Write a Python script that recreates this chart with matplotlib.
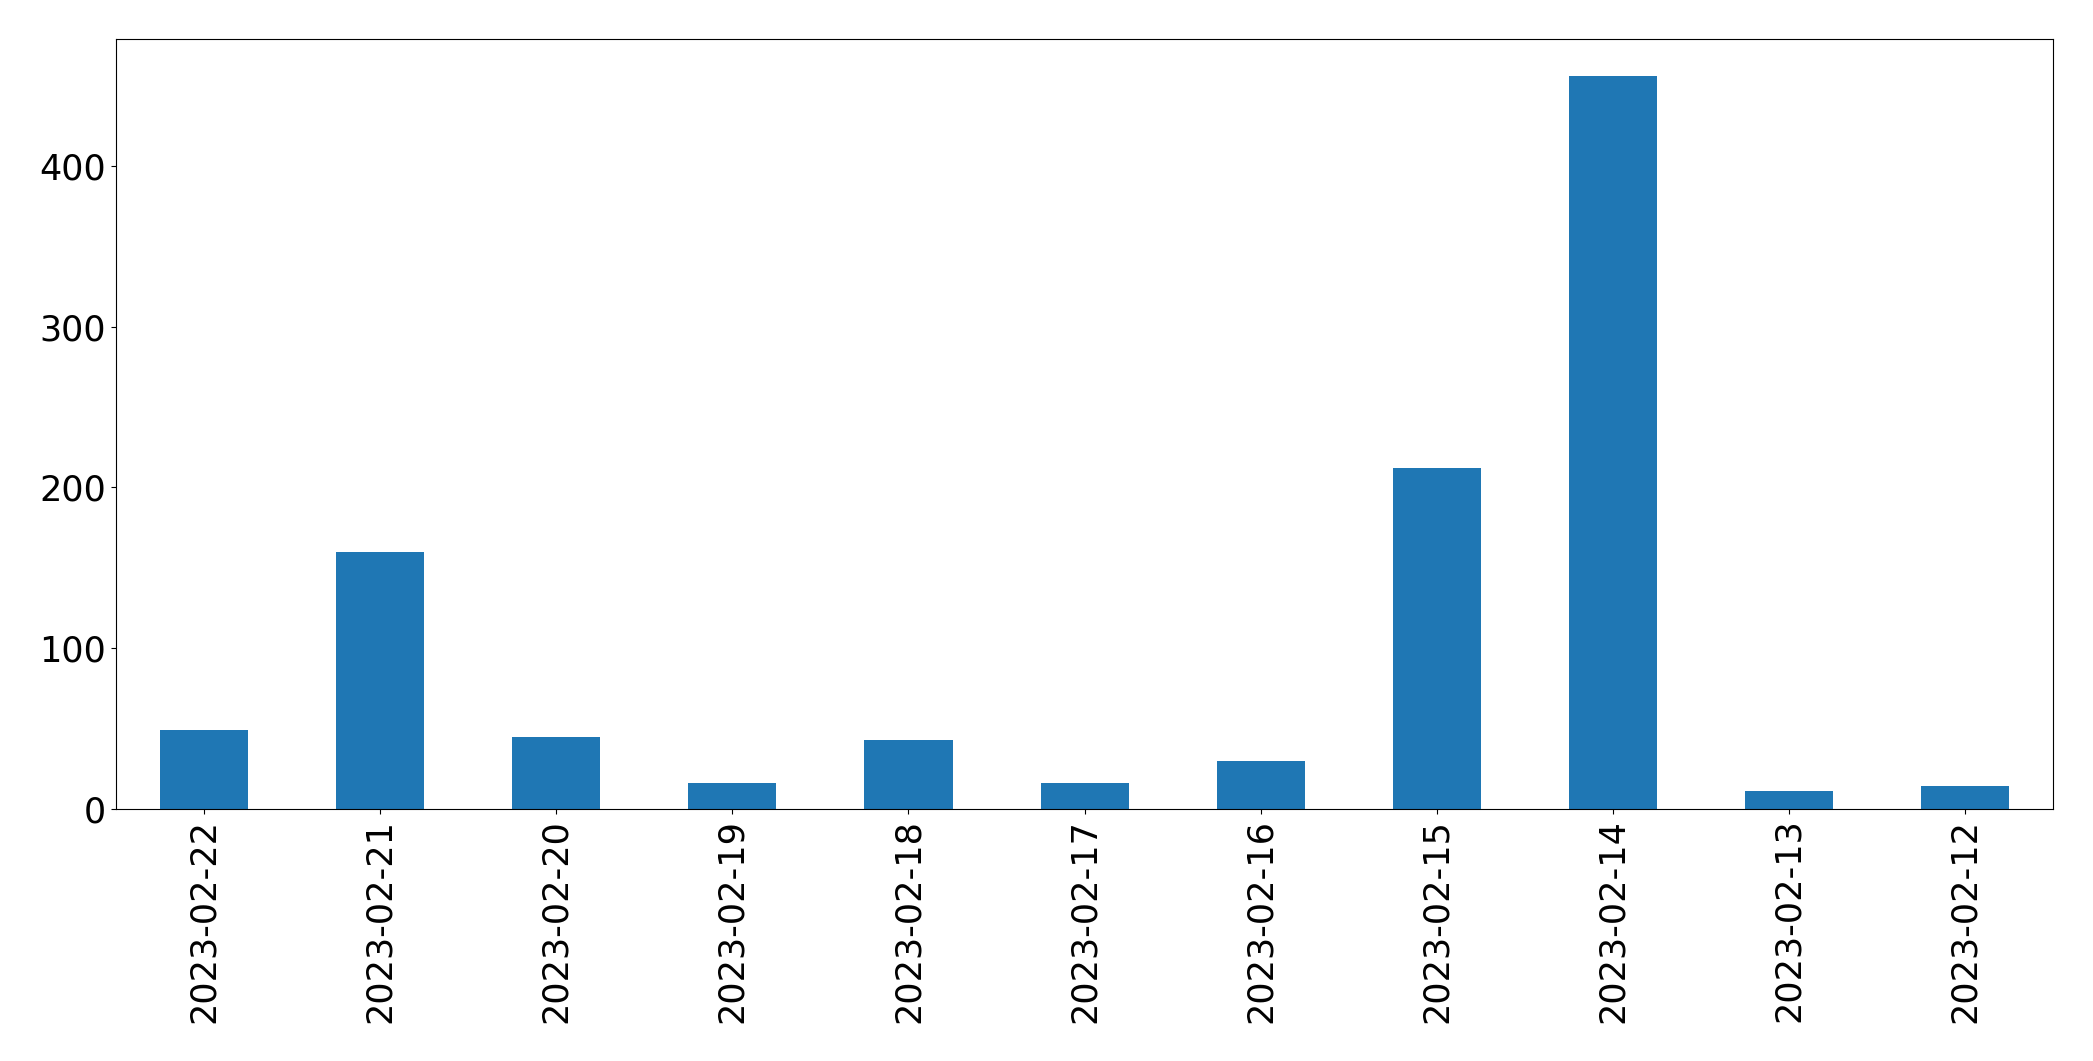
import matplotlib
matplotlib.use('Agg')
import matplotlib.pyplot as plt
import pandas as pd

# daily counts, newest first (as in the source plot)
dates = ['2023-02-22', '2023-02-21', '2023-02-20', '2023-02-19', '2023-02-18',
         '2023-02-17', '2023-02-16', '2023-02-15', '2023-02-14', '2023-02-13',
         '2023-02-12']
counts = [49, 160, 45, 16, 43, 16, 30, 212, 456, 11, 14]

s = pd.Series(counts, index=dates)

fig = plt.figure(figsize=(20.93, 10.61), dpi=100)
ax = fig.add_subplot(111)
s.plot(kind='bar', ax=ax, fontsize=25.2)
ax.tick_params(axis='x', labelrotation=90)
fig.subplots_adjust(left=0.0554, right=0.981, top=0.9632, bottom=0.2375)
fig.savefig('out.png', dpi=100)
